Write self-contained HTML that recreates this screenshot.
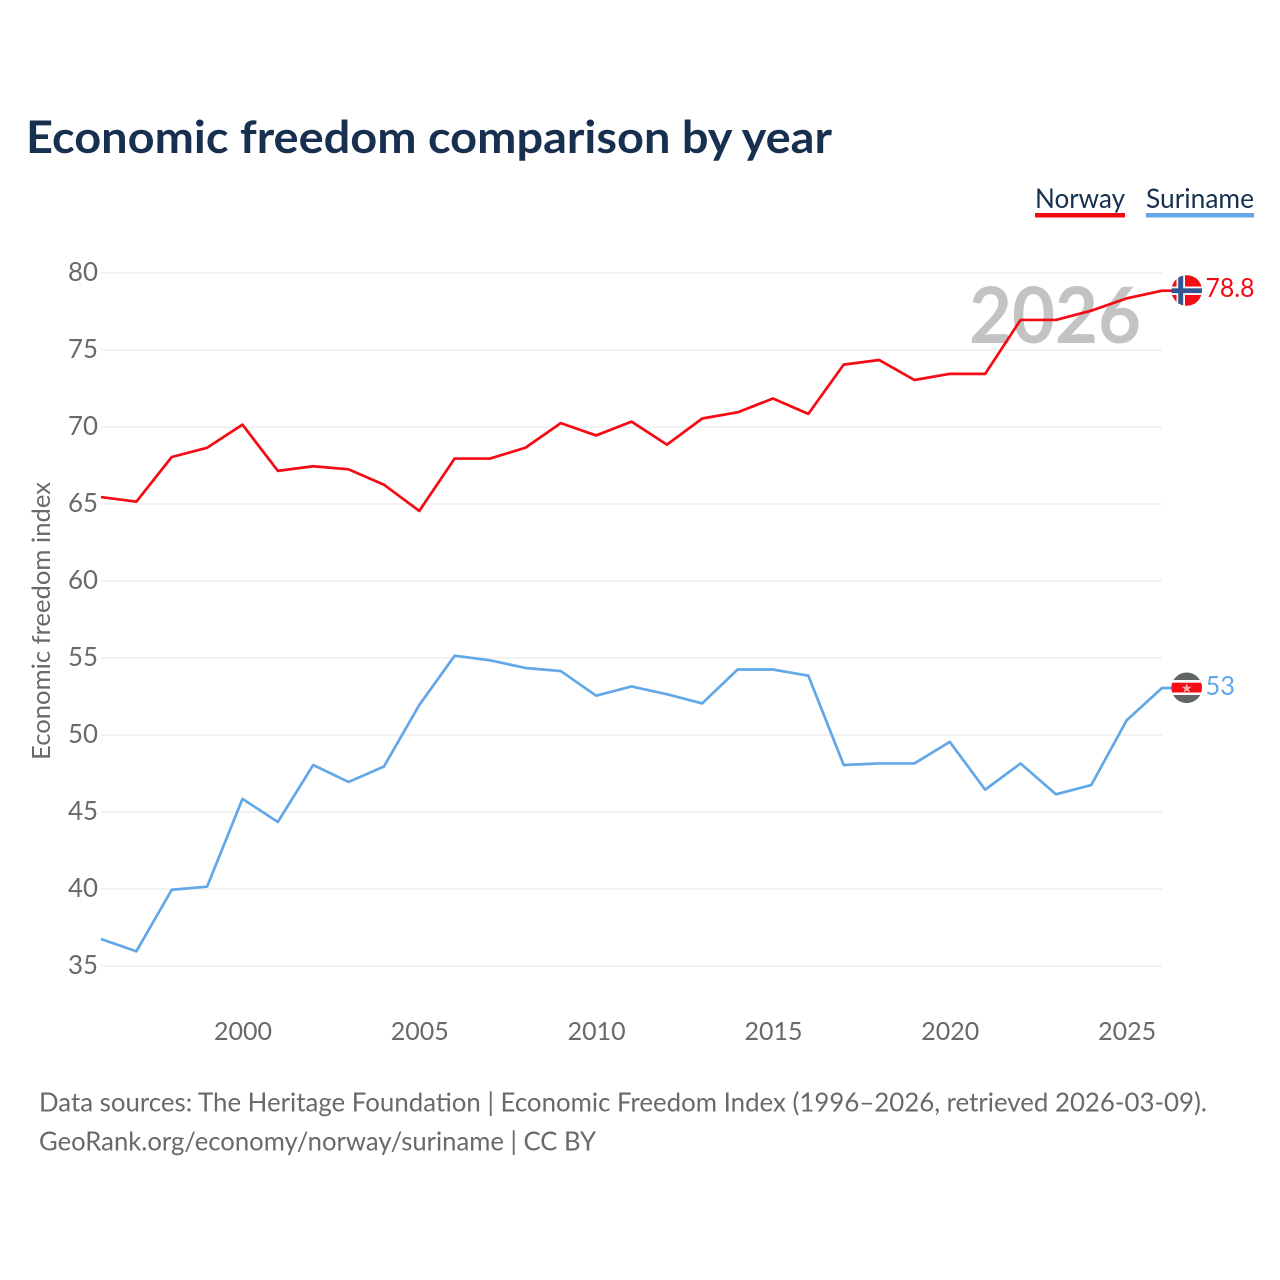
<!DOCTYPE html>
<html>
<head>
<meta charset="utf-8">
<title>Economic freedom comparison by year</title>
<style>
html,body{margin:0;padding:0;background:#fff;width:1280px;height:1280px;overflow:hidden}
svg{display:block;font-family:"Lato","Carlito","Liberation Sans",sans-serif}
</style>
</head>
<body>
<svg id="chart" width="1280" height="1280" viewBox="0 0 1280 1280">
  <defs>
    <clipPath id="clip-no"><circle cx="1186.7" cy="290.5" r="15.3"/></clipPath>
    <clipPath id="clip-sr"><circle cx="1186.7" cy="687.8" r="15.3"/></clipPath>
  </defs>
  <rect x="0" y="0" width="1280" height="1280" fill="#fff"/>
  <text x="26" y="153" font-size="45" font-weight="700" fill="#18304f" textLength="806" lengthAdjust="spacingAndGlyphs">Economic freedom comparison by year</text>

  <g>
    <text x="1035" y="208" font-size="27" fill="#18304f" textLength="90" lengthAdjust="spacingAndGlyphs">Norway</text>
    <rect x="1035" y="213" width="90" height="4.5" fill="#f50a14"/>
    <text x="1146" y="208" font-size="27" fill="#18304f" textLength="108" lengthAdjust="spacingAndGlyphs">Suriname</text>
    <rect x="1146" y="213" width="108" height="4.5" fill="#62a8e8"/>
  </g>

  <g id="grid"></g>
  <text x="1055" y="343" font-size="78" font-weight="700" fill="#c2c4c4" text-anchor="middle" textLength="172" lengthAdjust="spacingAndGlyphs">2026</text>
  <g id="yticks"></g>
  <g id="xticks"></g>
  <text transform="translate(50 621) rotate(-90)" font-size="25.5" fill="#666a6a" text-anchor="middle" textLength="278" lengthAdjust="spacingAndGlyphs">Economic freedom index</text>

  <path id="line-norway" fill="none" stroke="#f50a14" stroke-width="2.7" stroke-linejoin="round"></path>
  <path id="line-suriname" fill="none" stroke="#62a8e8" stroke-width="2.7" stroke-linejoin="round"></path>

  <g clip-path="url(#clip-no)">
    <rect x="1171" y="275" width="32" height="32" fill="#f40d15"/>
    <rect x="1176.5" y="275" width="8.5" height="32" fill="#fff"/>
    <rect x="1171" y="286.5" width="32" height="8.5" fill="#fff"/>
    <rect x="1178.2" y="275" width="5" height="32" fill="#32558f"/>
    <rect x="1171" y="288.3" width="32" height="4.8" fill="#32558f"/>
  </g>
  <g clip-path="url(#clip-sr)">
    <rect x="1171" y="672" width="32" height="32" fill="#626663"/>
    <rect x="1171" y="680" width="32" height="15" fill="#fff"/>
    <rect x="1171" y="682.7" width="32" height="9.8" fill="#f40d15"/>
    <text x="1186.7" y="692.5" font-size="13" fill="#f6b0b0" text-anchor="middle" font-family="DejaVu Sans, sans-serif">★</text>
  </g>
  <text x="1205.5" y="297" font-size="26" fill="#f50a14" textLength="49" lengthAdjust="spacingAndGlyphs">78.8</text>
  <text x="1205.5" y="695" font-size="26" fill="#62a8e8" textLength="29.5" lengthAdjust="spacingAndGlyphs">53</text>

  <text x="39" y="1111.5" font-size="26.5" fill="#666a6a" textLength="1168" lengthAdjust="spacingAndGlyphs">Data sources: The Heritage Foundation | Economic Freedom Index (1996–2026, retrieved 2026-03-09).</text>
  <text x="39" y="1150.5" font-size="26.5" fill="#666a6a" textLength="557" lengthAdjust="spacingAndGlyphs">GeoRank.org/economy/norway/suriname | CC BY</text>
</svg>
<script>
const years = [1996,1997,1998,1999,2000,2001,2002,2003,2004,2005,2006,2007,2008,2009,2010,2011,2012,2013,2014,2015,2016,2017,2018,2019,2020,2021,2022,2023,2024,2025,2026];
const norway = [65.4,65.1,68,68.6,70.1,67.1,67.4,67.2,66.2,64.5,67.9,67.9,68.6,70.2,69.4,70.3,68.8,70.5,70.9,71.8,70.8,74,74.3,73,73.4,73.4,76.9,76.9,77.5,78.3,78.8];
const suriname = [36.7,35.9,39.9,40.1,45.8,44.3,48,46.9,47.9,51.9,55.1,54.8,54.3,54.1,52.5,53.1,52.6,52,54.2,54.2,53.8,48,48.1,48.1,49.5,46.4,48.1,46.1,46.7,50.9,53];
const yTickValues = [35,40,45,50,55,60,65,70,75,80];
const xTickValues = [2000,2005,2010,2015,2020,2025];

const NS = 'http://www.w3.org/2000/svg';
function xScale(year){ return 101 + (year - 1996) * (1162 - 101) / 30; }
function yScale(v){ return 966 - (v - 35) * (966 - 273) / 45; }
function linePath(values){
  const pts = values.map(function(v, i){
    return (i ? 'L' : 'M') + xScale(years[i]).toFixed(2) + ' ' + (yScale(v) - 0.8).toFixed(2);
  });
  const last = values[values.length - 1];
  pts.push('L' + (xScale(years[years.length - 1]) + 10) + ' ' + (yScale(last) - 0.8).toFixed(2));
  return pts.join(' ');
}

const grid = document.getElementById('grid');
const yticks = document.getElementById('yticks');
const xticks = document.getElementById('xticks');

yTickValues.forEach(function(v){
  const l = document.createElementNS(NS, 'line');
  
  
  l.setAttribute('x1', 101);
  l.setAttribute('x2', 1162);
  l.setAttribute('y1', yScale(v));
  l.setAttribute('y2', yScale(v));
  l.setAttribute('stroke', '#eeeeee');
  l.setAttribute('stroke-width', '1.5');
  grid.appendChild(l);

  const t = document.createElementNS(NS, 'text');
  
  
  t.setAttribute('x', 98);
  t.setAttribute('y', yScale(v) + 8);
  t.setAttribute('text-anchor', 'end');
  t.setAttribute('font-size', '26');
  t.setAttribute('fill', '#666a6a');
  t.setAttribute('textLength', '30');
  t.setAttribute('lengthAdjust', 'spacingAndGlyphs');
  t.textContent = v;
  yticks.appendChild(t);
});

xTickValues.forEach(function(y){
  const t = document.createElementNS(NS, 'text');
  
  
  t.setAttribute('x', xScale(y) + 0.5);
  t.setAttribute('y', 1040);
  t.setAttribute('text-anchor', 'middle');
  t.setAttribute('font-size', '25.5');
  t.setAttribute('fill', '#666a6a');
  t.setAttribute('textLength', '58');
  t.setAttribute('lengthAdjust', 'spacingAndGlyphs');
  t.textContent = y;
  xticks.appendChild(t);
});

document.getElementById('line-norway').setAttribute('d', linePath(norway));
document.getElementById('line-suriname').setAttribute('d', linePath(suriname));
</script>
</body>
</html>
